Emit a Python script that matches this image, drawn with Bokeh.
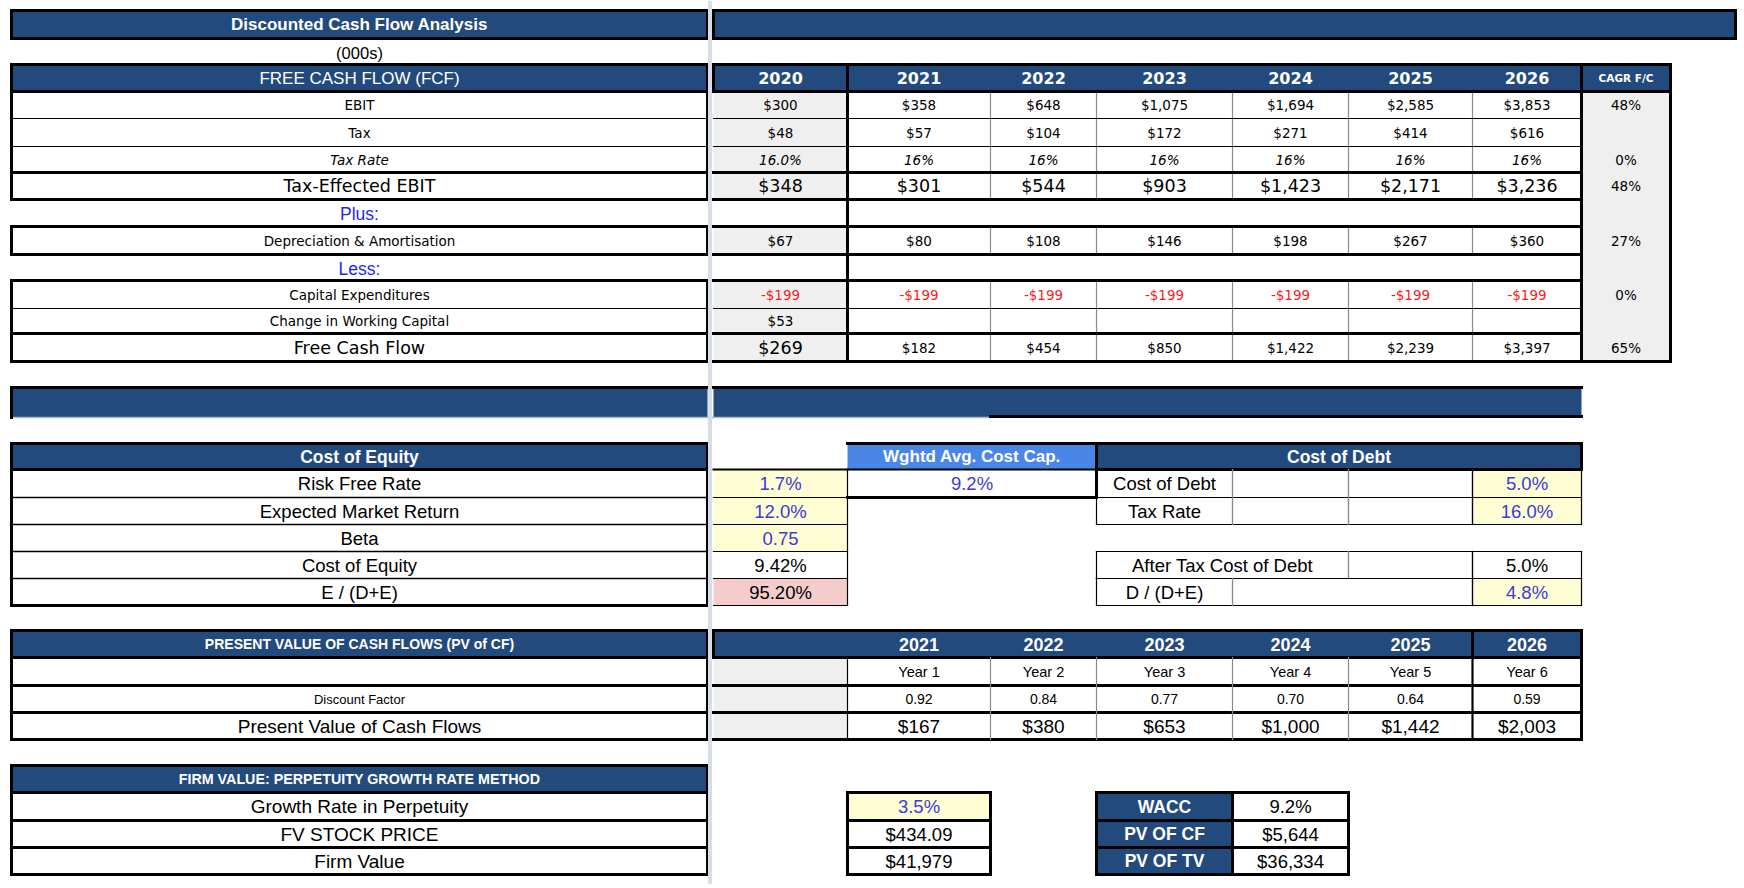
from bokeh.plotting import figure
from bokeh.models import Range1d, ColumnDataSource
from bokeh.embed import file_html
from bokeh.resources import INLINE

# ---------------- data ----------------
title = "Discounted Cash Flow Analysis"
units = "(000s)"
fcf_title = "FREE CASH FLOW (FCF)"
years = ["2020", "2021", "2022", "2023", "2024", "2025", "2026"]
cagr_title = "CAGR F/C"

fcf_labels = ["EBIT", "Tax", "Tax Rate", "Tax-Effected EBIT", "Plus:",
              "Depreciation & Amortisation", "Less:", "Capital Expenditures",
              "Change in Working Capital", "Free Cash Flow"]
ebit = [300, 358, 648, 1075, 1694, 2585, 3853]
tax = [48, 57, 104, 172, 271, 414, 616]
tax_rate = ["16.0%", "16%", "16%", "16%", "16%", "16%", "16%"]
te_ebit = [348, 301, 544, 903, 1423, 2171, 3236]
dep_amort = [67, 80, 108, 146, 198, 267, 360]
capex = [-199, -199, -199, -199, -199, -199, -199]
work_cap = [53, None, None, None, None, None, None]
free_cf = [269, 182, 454, 850, 1422, 2239, 3397]
cagr = ["48%", "", "0%", "48%", "", "27%", "", "0%", "", "65%"]

coe_title = "Cost of Equity"
coe_labels = ["Risk Free Rate", "Expected Market Return", "Beta", "Cost of Equity", "E / (D+E)"]
coe_values = ["1.7%", "12.0%", "0.75", "9.42%", "95.20%"]
wacc_title = "Wghtd Avg. Cost Cap."
wacc_value = "9.2%"
cod_title = "Cost of Debt"
cod_labels = ["Cost of Debt", "Tax Rate", "After Tax Cost of Debt", "D / (D+E)"]
cod_values = ["5.0%", "16.0%", "5.0%", "4.8%"]

pv_title = "PRESENT VALUE OF CASH FLOWS (PV of CF)"
pv_years = ["2021", "2022", "2023", "2024", "2025", "2026"]
pv_periods = ["Year 1", "Year 2", "Year 3", "Year 4", "Year 5", "Year 6"]
pv_labels = ["", "Discount Factor", "Present Value of Cash Flows"]
discount_factor = [0.92, 0.84, 0.77, 0.70, 0.64, 0.59]
pv_cf = [167, 380, 653, 1000, 1442, 2003]

fv_title = "FIRM VALUE: PERPETUITY GROWTH RATE METHOD"
fv_labels = ["Growth Rate in Perpetuity", "FV STOCK PRICE", "Firm Value"]
fv_values = ["3.5%", "$434.09", "$41,979"]
summary_labels = ["WACC", "PV OF CF", "PV OF TV"]
summary_values = ["9.2%", "$5,644", "$36,334"]

# ---------------- styles ----------------
NAVY = "#234a7c"; GRAY = "#efefef"; YEL = "#fefdd4"; PINK = "#f4cccc"
BRIGHT = "#4a86e8"; BLUE = "#3b3bd6"; PLUSBLUE = "#1f1fff"; RED = "#ff1a1a"
SEPC = "#d6dde9"; MID = "#8a8a8a"; PALE = "#a9bcd6"
TOPF = "DejaVu Sans"; SANS = "Liberation Sans"
THICK = 3.0; THIN = 1.2
SMALL = 13.5; BIG = 17.5; BODY = 18.5

Q = dict(left=[], right=[], top=[], bottom=[], color=[])
S = dict(x0=[], y0=[], x1=[], y1=[], w=[], color=[])
T = dict(x=[], y=[], text=[], size=[], color=[], style=[], font=[], align=[])


def fill(x0, x1, y0, y1, c):
    Q["left"].append(x0); Q["right"].append(x1)
    Q["top"].append(y0); Q["bottom"].append(y1); Q["color"].append(c)


def hl(x0, x1, y, w=THIN, c="black"):
    S["x0"].append(x0); S["x1"].append(x1); S["y0"].append(y); S["y1"].append(y)
    S["w"].append(w); S["color"].append(c)


def vl(x, y0, y1, w=THIN, c="black"):
    S["x0"].append(x); S["x1"].append(x); S["y0"].append(y0); S["y1"].append(y1)
    S["w"].append(w); S["color"].append(c)


def box(x0, x1, y0, y1, w=THICK, c="black"):
    hl(x0, x1, y0, w, c); hl(x0, x1, y1, w, c); vl(x0, y0, y1, w, c); vl(x1, y0, y1, w, c)


def txt(x, y, s, size, color="black", style="normal", font=SANS, align="center"):
    T["x"].append(x); T["y"].append(y); T["text"].append(s); T["size"].append(f"{size}px")
    T["color"].append(color); T["style"].append(style); T["font"].append(font); T["align"].append(align)


def money(v):
    if v is None:
        return ""
    return ("-$" if v < 0 else "$") + f"{abs(v):,}"


# ---------------- layout (page pixels) ----------------
LX0, LX1 = 11, 707
LC = (LX0 + LX1) / 2
CX = [713, 847, 990, 1096, 1232, 1348, 1472, 1581]
CAGR_R = 1670
RIGHT_END = 1735


def cc(i):
    return (CX[i] + CX[i + 1]) / 2


def mid(a, b):
    return (a + b) / 2


# title
TY = (10, 38)
fill(LX0, LX1, *TY, NAVY); box(LX0, LX1, *TY)
fill(CX[0], RIGHT_END, *TY, NAVY); box(CX[0], RIGHT_END, *TY)
txt(LC, mid(*TY), title, 17, "white", "bold")
txt(LC, 52, units, 16.5)

# FCF header
HY = (64, 91)
fill(LX0, LX1, *HY, NAVY); box(LX0, LX1, *HY)
fill(CX[0], CX[7], *HY, NAVY); box(CX[0], CX[7], *HY); vl(CX[1], *HY, THICK)
fill(CX[7], CAGR_R, *HY, NAVY); box(CX[7], CAGR_R, *HY)
txt(LC, mid(*HY), fcf_title, 17, "white")
for i, yr in enumerate(years):
    txt(cc(i), mid(*HY), yr, 16, "white", "bold", TOPF)
txt(mid(CX[7], CAGR_R), mid(*HY), cagr_title, 10.5, "white", "bold", TOPF)

# FCF body
TR = [91, 118, 146, 172, 199, 226, 254, 280, 308, 333, 361]
TRW = [THICK, THIN, THIN, THICK, THICK, THICK, THICK, THICK, THIN, THICK, THICK]
series = [ebit, tax, tax_rate, te_ebit, None, dep_amort, None, capex, work_cap, free_cf]
fill(CX[7], CAGR_R, TR[0], TR[-1], GRAY)
for r in range(len(fcf_labels)):
    y0, y1 = TR[r], TR[r + 1]
    ym = mid(y0, y1)
    vals = series[r]
    lab = fcf_labels[r]
    if vals is None:
        txt(LC, ym + 1, lab, 17.5, PLUSBLUE)
        continue
    fill(CX[0], CX[1], y0, y1, GRAY)
    vl(LX0, y0, y1, THICK); vl(LX1, y0, y1, THICK)
    for k in range(2, 7):
        vl(CX[k], y0, y1, THIN, MID)
    big = lab in ("Tax-Effected EBIT", "Free Cash Flow")
    italic = lab == "Tax Rate"
    txt(LC, ym, lab, BIG if big else SMALL, "black", "italic" if italic else "normal", TOPF)
    for i, v in enumerate(vals):
        s = v if isinstance(v, str) else money(v)
        col = RED if (not isinstance(v, str) and v is not None and v < 0) else "black"
        size = BIG if (lab == "Tax-Effected EBIT" or (lab == "Free Cash Flow" and i == 0)) else SMALL
        txt(cc(i), ym, s, size, col, "italic" if italic else "normal", TOPF)
    if cagr[r]:
        txt(mid(CX[7], CAGR_R), ym, cagr[r], SMALL, "black", "normal", TOPF)
for i, y in enumerate(TR):
    hl(LX0, LX1, y, TRW[i]); hl(CX[0], CX[7], y, TRW[i])
vl(CX[1], TR[0], TR[-1], THICK); vl(CX[7], TR[0], TR[-1], THICK)
vl(CAGR_R, TR[0], TR[-1], THICK); hl(CX[7], CAGR_R, TR[-1], THICK)

# blank section bar
SB = (387, 417)
fill(LX0, LX1, *SB, NAVY); fill(CX[0], CX[7], *SB, NAVY)
hl(LX0, CX[2], SB[1], 1.5, PALE)
hl(LX0, LX1, SB[0], THICK); vl(LX0, *SB, THICK)
hl(LX1, CX[7], SB[0], THICK); hl(CX[2], CX[7], SB[1] - 1, THICK)

# Cost of equity
CH = (443, 469)
CR = [469, 497, 524, 551, 578, 605]
coe_fill = [YEL, YEL, YEL, "white", PINK]
coe_col = [BLUE, BLUE, BLUE, "black", "black"]
fill(LX0, LX1, *CH, NAVY); box(LX0, LX1, *CH)
txt(LC, mid(*CH), coe_title, 17.5, "white", "bold")
for i, lab in enumerate(coe_labels):
    y0, y1 = CR[i], CR[i + 1]
    fill(CX[0], CX[1], y0, y1, coe_fill[i])
    txt(LC, mid(y0, y1), lab, BODY)
    txt(cc(0), mid(y0, y1), coe_values[i], BODY, coe_col[i])
for y in CR[1:-1]:
    hl(LX0, LX1, y, 1.6)
    hl(CX[0], CX[1], y, THIN)
hl(LX0, LX1, CR[-1], THICK); vl(LX0, CR[0], CR[-1], THICK); vl(LX1, CR[0], CR[-1], THICK)
hl(CX[0], CX[1], CR[0], 2.0); hl(CX[0], CX[1], CR[-1], THIN); vl(CX[1], CR[0], CR[-1], THIN)

# WACC
fill(CX[1], CX[3], *CH, BRIGHT); hl(CX[1], CX[3], CH[0], THICK)
txt(mid(CX[1], CX[3]), mid(*CH), wacc_title, 17, "white", "bold")
hl(CX[1], CX[3], CR[0], 2.0); hl(CX[1], CX[3], CR[1], THICK); vl(CX[3], CR[0], CR[1], THICK)
txt(mid(CX[1], CX[3]), mid(CR[0], CR[1]), wacc_value, BODY, BLUE)

# Cost of debt
fill(CX[3], CX[7], *CH, NAVY); box(CX[3], CX[7], *CH)
txt(mid(CX[3], CX[7]), mid(*CH), cod_title, 17.5, "white", "bold")
cod_rows = [
    (0, [(3, 4, cod_labels[0], "white", "black"), (4, 5, "", "white", "black"), (5, 6, "", "white", "black"), (6, 7, cod_values[0], YEL, BLUE)]),
    (1, [(3, 4, cod_labels[1], "white", "black"), (4, 5, "", "white", "black"), (5, 6, "", "white", "black"), (6, 7, cod_values[1], YEL, BLUE)]),
    (3, [(3, 5, cod_labels[2], "white", "black"), (5, 6, "", "white", "black"), (6, 7, cod_values[2], "white", "black")]),
    (4, [(3, 4, cod_labels[3], "white", "black"), (4, 6, "", "white", "black"), (6, 7, cod_values[3], YEL, BLUE)]),
]
for r, cells in cod_rows:
    y0, y1 = CR[r], CR[r + 1]
    for a, b, s, fc, tc in cells:
        fill(CX[a], CX[b], y0, y1, fc)
        hl(CX[a], CX[b], y0, THIN); hl(CX[a], CX[b], y1, THIN)
        vl(CX[a], y0, y1, THIN, MID if a in (4, 5) else "black")
        vl(CX[b], y0, y1, THIN, MID if b in (4, 5) else "black")
        if s:
            txt(mid(CX[a], CX[b]), mid(y0, y1), s, BODY, tc)

# Present value
PH = (630, 657)
PR = [657, 685, 712, 739]
fill(LX0, LX1, *PH, NAVY); box(LX0, LX1, *PH)
txt(LC, mid(*PH), pv_title, 14, "white", "bold")
fill(CX[0], CX[7], *PH, NAVY); box(CX[0], CX[7], *PH); vl(CX[6], *PH, THICK)
for i, yr in enumerate(pv_years):
    txt(cc(i + 1), mid(*PH), yr, 18, "white", "bold")
fill(CX[0], CX[1], PR[0], PR[-1], GRAY)
for y in PR:
    hl(LX0, LX1, y, THICK)
for y in PR[1:]:
    hl(CX[0], CX[7], y, THICK)
vl(LX0, PR[0], PR[-1], THICK); vl(LX1, PR[0], PR[-1], THICK)
vl(CX[1], PR[0], PR[-1], THIN)
for k in range(2, 6):
    vl(CX[k], PR[0], PR[-1], THIN, MID)
vl(CX[6], PR[0], PR[-1], 2.2); vl(CX[7], PR[0], PR[-1], THICK)
pv_rows = [pv_periods, [f"{d:.2f}" for d in discount_factor], [money(v) for v in pv_cf]]
pv_sizes = [14.5, 14, 19]
lab_sizes = [13, 13, 19]
for r in range(3):
    ym = mid(PR[r], PR[r + 1])
    if pv_labels[r]:
        txt(LC, ym, pv_labels[r], lab_sizes[r])
    for i, s in enumerate(pv_rows[r]):
        txt(cc(i + 1), ym, s, pv_sizes[r])

# Firm value
FH = (765, 792)
FR = [792, 820, 847, 874]
fill(LX0, LX1, *FH, NAVY); box(LX0, LX1, *FH)
txt(LC, mid(*FH), fv_title, 14.3, "white", "bold")
fv_fill = [YEL, "white", "white"]
fv_col = [BLUE, "black", "black"]
for i in range(3):
    y0, y1 = FR[i], FR[i + 1]
    ym = mid(y0, y1)
    box(LX0, LX1, y0, y1)
    txt(LC, ym, fv_labels[i], 19)
    fill(CX[1], CX[2], y0, y1, fv_fill[i]); box(CX[1], CX[2], y0, y1)
    txt(cc(1), ym, fv_values[i], BODY, fv_col[i])
    fill(CX[3], CX[4], y0, y1, NAVY); box(CX[3], CX[4], y0, y1)
    txt(cc(3), ym, summary_labels[i], 17.5, "white", "bold")
    box(CX[4], CX[5], y0, y1)
    txt(cc(4), ym, summary_values[i], BODY)

# ---------------- figure ----------------
W, H = 1740, 884
p = figure(width=W, height=H, output_backend="svg", toolbar_location=None,
           x_range=Range1d(0, W), y_range=Range1d(H, 0),
           min_border=0, x_axis_location=None, y_axis_location=None)
p.grid.visible = False
p.outline_line_color = None
p.background_fill_color = "white"
p.border_fill_color = "white"

p.quad(left="left", right="right", top="top", bottom="bottom", fill_color="color",
       line_color=None, source=ColumnDataSource(Q))
p.segment(x0="x0", y0="y0", x1="x1", y1="y1", line_width="w", line_color="color",
          line_cap="square", source=ColumnDataSource(S))
# frozen-pane separator
p.quad(left=[707.5], right=[711.5], top=[0], bottom=[H], fill_color=SEPC, line_color=None)
p.text(x="x", y="y", text="text", text_font_size="size", text_color="color",
       text_font_style="style", text_font="font", text_align="align",
       text_baseline="middle", source=ColumnDataSource(T))

open("out.html", "w").write(file_html(p, INLINE))
